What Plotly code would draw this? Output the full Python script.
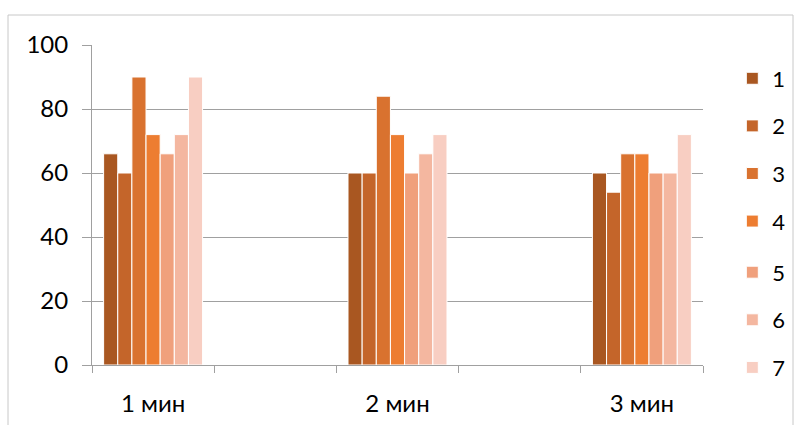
import plotly.graph_objects as go

categories = ["1 мин", "2 мин", "3 мин"]
series_names = ["1", "2", "3", "4", "5", "6", "7"]
values = [
    [66, 60, 60],
    [60, 60, 54],
    [90, 84, 66],
    [72, 72, 66],
    [66, 60, 60],
    [72, 66, 60],
    [90, 72, 72],
]
colors = ["#A95721", "#C4652A", "#D9722F", "#ED7D31", "#F0A07C", "#F4B7A0", "#F8CEC2"]

# categories sit on every other slot (empty slots between them)
xpos = [2 * i for i in range(len(categories))]

fig = go.Figure()
for i, (name, vals, col) in enumerate(zip(series_names, values, colors)):
    fig.add_trace(go.Bar(
        x=xpos, y=vals, name=name, legendgroup=name,
        legend="legend" if i < 4 else "legend2",
        marker=dict(color=col, line=dict(color="white", width=1)),
    ))

font_family = "Lato, 'Open Sans', sans-serif"
gray = "#A0A0A0"
leg_x = 1.048

fig.update_layout(
    width=794, height=425,
    margin=dict(l=92, r=91, t=45, b=60, autoexpand=False),
    paper_bgcolor="white", plot_bgcolor="white",
    barmode="group", bargap=0.595, bargroupgap=0,
    font=dict(family=font_family, size=24, color="black"),
    showlegend=True,
    legend=dict(x=leg_x, xanchor="left", y=0.961, yanchor="top",
                tracegroupgap=16, font=dict(size=22), bgcolor="rgba(0,0,0,0)"),
    legend2=dict(x=leg_x, xanchor="left", y=0.355, yanchor="top",
                 tracegroupgap=16, font=dict(size=22), bgcolor="rgba(0,0,0,0)"),
    xaxis=dict(
        range=[-0.5, 2 * len(categories) - 1.5],
        tickvals=xpos, ticktext=categories, ticks="",
        showgrid=False, zeroline=False,
        showline=True, linecolor=gray, linewidth=1,
        tickfont=dict(size=24), ticklabelstandoff=17,
        minor=dict(tickvals=[x - 0.5 for x in range(2 * len(categories))],
                   ticks="outside", ticklen=7, tickcolor=gray, showgrid=False),
    ),
    yaxis=dict(
        range=[0, 100], dtick=20, tick0=0,
        showgrid=True, gridcolor=gray, gridwidth=1,
        zeroline=False, showline=True, linecolor=gray, linewidth=1,
        ticks="outside", ticklen=9, tickcolor=gray,
        tickfont=dict(size=24), ticklabelstandoff=9,
    ),
    shapes=[dict(type="rect", xref="paper", yref="paper",
                 x0=(8 - 92) / 611, x1=(793 - 92) / 611,
                 y0=(365 - 440) / 320, y1=(365 - 15) / 320,
                 line=dict(color="#C8C8C8", width=1), layer="below")],
)

fig.write_html("out.html")
